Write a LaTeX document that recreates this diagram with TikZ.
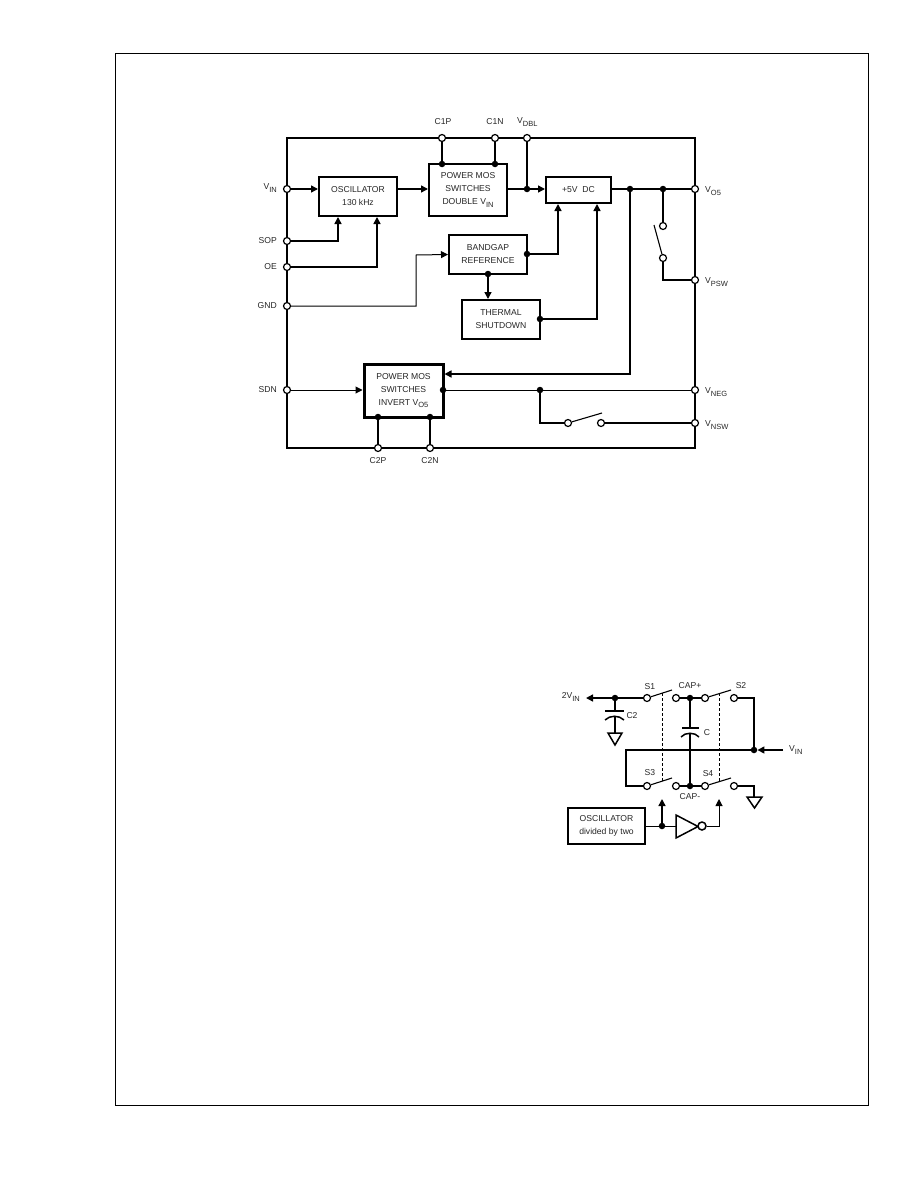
\documentclass[tikz,border=0pt]{standalone}
\usepackage{fontspec}
\setmainfont{Liberation Sans}
\usetikzlibrary{arrows.meta,calc}
\newcommand{\lowtxt}[1]{\raisebox{-2.2pt}{\fontsize{7.5}{8}\selectfont #1}}
\tikzset{
  wire/.style={line width=1.5pt},
  thinwire/.style={line width=1pt},
  arr/.style={-{Triangle[length=7pt,width=7pt]}},
  blockbox/.style={draw,line width=2pt,fill=white,minimum width=0pt,inner sep=0pt,align=center,font=\fontsize{8.6}{13}\selectfont,text=black!85},
  pinc/.style={circle,draw,line width=1.2pt,fill=white,minimum size=7pt,inner sep=0pt},
  jdot/.style={circle,fill=black,minimum size=6.5pt,inner sep=0pt},
  lab/.style={inner sep=0pt,font=\fontsize{8.6}{10}\selectfont,text=black!85},
  gnd/.style={line width=1.5pt,line join=miter},
  swarm/.style={line width=1.1pt},
  plate/.style={line width=1.5pt},
}
\begin{document}
\begin{tikzpicture}[x=1pt,y=-1pt]
\useasboundingbox (0,0) rectangle (918,1188);
\draw[line width=1pt] (115,54) rectangle (868,1105);
% main frame
\coordinate (tl) at (287,138); \coordinate (tr) at (695,138);
\coordinate (bl) at (287,448); \coordinate (br) at (695,448);
\draw[wire] (tl) -- (tr) -- (br) -- (bl) -- cycle;
% pins
\node[pinc] (vin) at (287,189) {}; \node[pinc] (sop) at (287,241) {};
\node[pinc] (oe) at (287,267) {}; \node[pinc] (gnd) at (287,306) {};
\node[pinc] (sdn) at (287,390) {};
\node[pinc] (c1p) at (442,138) {}; \node[pinc] (c1n) at (495,138) {};
\node[pinc] (vdbl) at (527,138) {};
\node[pinc] (vo5) at (695,189) {}; \node[pinc] (vpsw) at (695,280) {};
\node[pinc] (vneg) at (695,390) {}; \node[pinc] (vnsw) at (695,423) {};
\node[pinc] (c2p) at (378,448) {}; \node[pinc] (c2n) at (430,448) {};
% blocks
\node[blockbox,minimum width=78pt,minimum height=39pt] (osc) at (358,196.5) {OSCILLATOR\\130 kHz};
\node[blockbox,minimum width=78pt,minimum height=52pt] (dbl) at (468,190) {POWER MOS\\SWITCHES\\DOUBLE V\lowtxt{IN}};
\node[blockbox,minimum width=65pt,minimum height=26pt] (ldo) at (578.5,190) {+5V\ \ DC};
\node[blockbox,minimum width=78pt,minimum height=39pt] (bg) at (488,254.5) {BANDGAP\\REFERENCE};
\node[blockbox,minimum width=78pt,minimum height=39pt] (th) at (501,319.5) {THERMAL\\SHUTDOWN};
\node[blockbox,line width=3pt,minimum width=79pt,minimum height=53pt] (inv) at (403.5,390.5) {POWER MOS\\SWITCHES\\INVERT V\lowtxt{O5}};
% junctions
\node[jdot] (jd) at (527,189) {};
\node[jdot] (j1) at (630,189) {};
\node[jdot] (j2) at (663,189) {};
\node[jdot] (j3) at (540,390) {};
\node[jdot] (dc1p) at (442,164) {};
\node[jdot] (dc1n) at (495,164) {};
\node[jdot] (dbg) at (527,254) {};
\node[jdot] (dbgb) at (488,274) {};
\node[jdot] (dth) at (540,319) {};
\node[jdot] (dinv) at (443,390) {};
\node[jdot] (dc2p) at (378,417) {};
\node[jdot] (dc2n) at (430,417) {};
% switches
\node[pinc] (sa) at (663,226) {}; \node[pinc] (sb) at (663,258) {};
\node[pinc] (sc) at (568,423) {}; \node[pinc] (sd) at (601,423) {};
\coordinate (sat) at (654,225); \coordinate (sct) at (602,413);
% wires
\draw[wire,arr] (vin) -- (osc.west |- vin);
\draw[wire,arr] (osc.east |- jd) -- (dbl.west |- jd);
\draw[wire,arr] (dbl.east |- jd) -- (ldo.west |- jd);
\draw[wire] (c1p) -- (dc1p); \draw[wire] (c1n) -- (dc1n);
\draw[wire] (vdbl) -- (jd);
\draw[wire] (ldo.east |- vo5) -- (vo5);
\draw[wire,arr] (sop) -| ($(osc.south west)+(20,0)$);
\draw[wire,arr] (oe) -| ($(osc.south west)+(59,0)$);
\draw[thinwire,arr] (gnd) -- (416,306) -- (416,255) -- (bg.west);
\draw[wire,arr] (dbgb) -- (th.north -| dbgb);
\draw[wire,arr] (dbg) -| ($(ldo.south west)+(13,0)$);
\draw[wire,arr] (dth) -| ($(ldo.south west)+(52,0)$);
\draw[wire,arr] (j1) |- (inv.east |- 0,374);
\draw[wire] (j2) -- (sa);
\draw[swarm] (sb) -- (sat);
\draw[wire] (sb) |- (vpsw);
\draw[thinwire,arr] (sdn) -- (inv.west |- sdn);
\draw[thinwire] (dinv) -- (vneg);
\draw[wire] (j3) |- (sc);
\draw[swarm] (sc) -- (sct);
\draw[wire] (sd) -- (vnsw);
\draw[wire] (dc2p) -- (c2p); \draw[wire] (dc2n) -- (c2n);
% labels
\node[lab] at (443,122) {C1P}; \node[lab] at (495,122) {C1N};
\node[lab,anchor=west] at (517,122) {V\lowtxt{DBL}};
\node[lab,anchor=east] at (277,188) {V\lowtxt{IN}};
\node[lab,anchor=east] at (277,241) {SOP};
\node[lab,anchor=east] at (277,267) {OE};
\node[lab,anchor=east] at (277,306) {GND};
\node[lab,anchor=east] at (277,390) {SDN};
\node[lab,anchor=west] at (705,191) {V\lowtxt{O5}};
\node[lab,anchor=west] at (705,282) {V\lowtxt{PSW}};
\node[lab,anchor=west] at (705,392) {V\lowtxt{NEG}};
\node[lab,anchor=west] at (705,425) {V\lowtxt{NSW}};
\node[lab] at (378,461) {C2P}; \node[lab] at (430,461) {C2N};
% ----- second circuit
\node[jdot] (k0) at (615,698) {};
\node[pinc] (s1a) at (647,698) {}; \node[pinc] (s1b) at (676,698) {};
\node[jdot] (kp) at (690,698) {};
\node[pinc] (s2a) at (705,698) {}; \node[pinc] (s2b) at (734,698) {};
\node[jdot] (kv) at (754,750) {};
\node[pinc] (s3a) at (647,786) {}; \node[pinc] (s3b) at (676,786) {};
\node[jdot] (km) at (690,786) {};
\node[pinc] (s4a) at (705,786) {}; \node[pinc] (s4b) at (734,786) {};
\coordinate (out) at (586,698); \coordinate (vi) at (783,750);
\coordinate (t1) at (672,690); \coordinate (t2) at (731,690);
\coordinate (t3) at (672,778); \coordinate (t4) at (731,778);
\draw[wire,arr] (s1a) -- (out);
\draw[wire] (s1b) -- (s2a);
\draw[wire] (s2b) -| (kv);
\draw[wire,arr] (vi) -- (kv);
\draw[wire] (kv) -- (626,750) |- (s3a);
\draw[wire] (s3b) -- (s4a);
\draw[swarm] (s1a) -- (t1); \draw[swarm] (s2a) -- (t2);
\draw[swarm] (s3a) -- (t3); \draw[swarm] (s4a) -- (t4);
\draw[line width=.8pt,densely dashed] (662,693) -- (662,781);
\draw[line width=.8pt,densely dashed] (719,693) -- (719,781);
% capacitor C
\draw[line width=1.2pt] (kp) -- (km);
\node[fill=white,inner sep=0pt,minimum width=20pt,minimum height=4pt] (gapc) at (690,730.5) {};
\draw[plate] (682,728) -- (699,728);
\draw[plate] (681,737) .. controls (685,732) and (695,732) .. (699,737);
% capacitor C2
\draw[line width=1.2pt] (k0) -- (615,711);
\draw[plate] (605,711) -- (624,711);
\draw[plate] (605,720) .. controls (610,715) and (619,715) .. (624,720);
\draw[line width=1.2pt] (615,716.5) -- (615,733);
% grounds
\draw[gnd] (608,733) -- (622,733) -- (615,745) -- cycle;
\draw[wire] (s4b) -| (754,797);
\draw[gnd] (747,797) -- (762,797) -- (754.5,808) -- cycle;
% oscillator + inverter
\node[blockbox,minimum width=77pt,minimum height=36pt,line width=1.6pt] (osc2) at (606.5,826) {OSCILLATOR\\divided by two};
\node[jdot] (k1) at (662,826) {};
\coordinate (ia) at (676,826);
\draw[thinwire] (osc2.east) -- (ia);
\draw[gnd] (676,815) -- (676,838) -- (698,826.5) -- cycle;
\node[pinc,minimum size=8pt,line width=1.5pt] (ib) at (702,826) {};
\coordinate (a1) at (662,799); \coordinate (a2) at (719,799);
\draw[wire,arr] (k1) -- (a1);
\draw[thinwire,arr] (ib) -| (a2);
\node[lab] at (650,687) {S1};
\node[lab] at (741,686) {S2};
\node[lab] at (650,773) {S3};
\node[lab] at (708,774) {S4};
\node[lab] at (690,686) {CAP+};
\node[lab] at (690,797) {CAP-};
\node[lab] at (707,733) {C};
\node[lab] at (632,716) {C2};
\node[lab,anchor=east] at (580,697) {2V\lowtxt{IN}};
\node[lab,anchor=west] at (789,750) {V\lowtxt{IN}};
\end{tikzpicture}
\end{document}
